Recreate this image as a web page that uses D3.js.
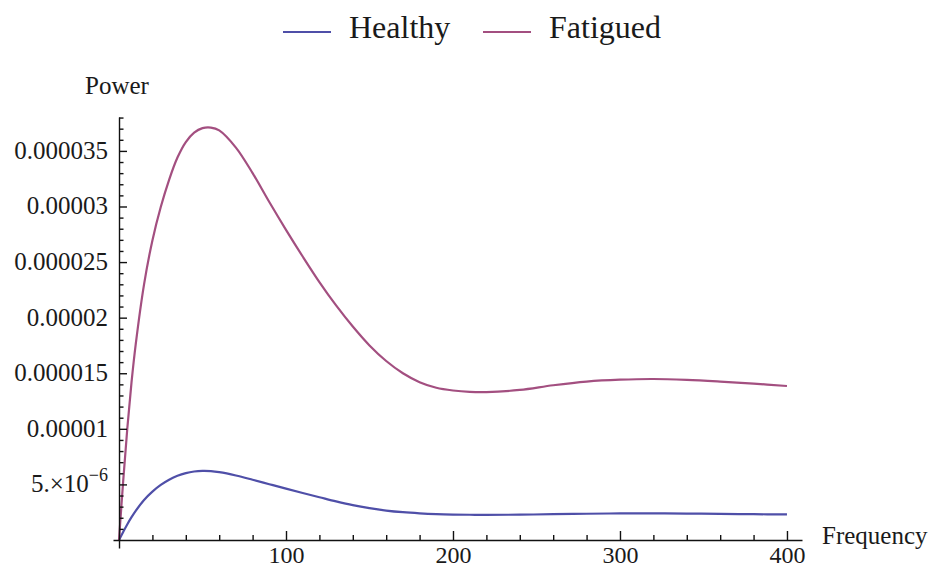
<!DOCTYPE html>
<html>
<head>
<meta charset="utf-8">
<script src="https://cdn.jsdelivr.net/npm/d3@7"></script>
<style>
  html, body { margin: 0; padding: 0; background: #fff; }
  svg { display: block; }
  text { font-family: "Liberation Serif", "Times New Roman", serif; fill: #1a1a1a; }
</style>
</head>
<body>
<svg id="chart" width="930" height="569"></svg>
<script>
// Power spectrum of the two groups
const frequency = [0, 2.5, 5, 7.5, 10, 15, 20, 25, 30, 35, 40, 45, 50, 55, 60, 70, 80, 90, 100,
  110, 120, 130, 140, 150, 160, 170, 180, 190, 200, 210, 220, 240, 260, 280, 300, 320, 340, 360, 380, 400];

const healthy = [0, 0.72e-6, 1.42e-6, 2.05e-6, 2.62e-6, 3.6e-6, 4.35e-6, 4.95e-6, 5.42e-6, 5.78e-6,
  6.02e-6, 6.16e-6, 6.21e-6, 6.19e-6, 6.1e-6, 5.8e-6, 5.42e-6, 5.02e-6, 4.62e-6,
  4.23e-6, 3.85e-6, 3.47e-6, 3.13e-6, 2.86e-6, 2.65e-6, 2.5e-6, 2.4e-6, 2.33e-6, 2.29e-6,
  2.27e-6, 2.26e-6, 2.28e-6, 2.32e-6, 2.36e-6, 2.39e-6, 2.4e-6, 2.38e-6, 2.35e-6, 2.32e-6, 2.3e-6];

const fatigued = [0, 5.3e-6, 10.1e-6, 14.2e-6, 17.6e-6, 23.0e-6, 26.95e-6, 29.95e-6, 32.4e-6, 34.4e-6,
  35.8e-6, 36.65e-6, 37.05e-6, 37.1e-6, 36.85e-6, 35.3e-6, 33.0e-6, 30.4e-6, 27.9e-6,
  25.5e-6, 23.2e-6, 21.1e-6, 19.2e-6, 17.5e-6, 16.1e-6, 15.0e-6, 14.2e-6, 13.7e-6, 13.45e-6,
  13.32e-6, 13.3e-6, 13.5e-6, 13.92e-6, 14.25e-6, 14.42e-6, 14.48e-6, 14.4e-6, 14.25e-6, 14.07e-6, 13.85e-6];

const seriesNames = ["Healthy", "Fatigued"];
const seriesColors = ["#4f4fa8", "#a34f80"];

const xTicks = [100, 200, 300, 400];
const xTickLabels = ["100", "200", "300", "400"];
const xMinorTicks = d3.range(20, 401, 20).filter(v => v % 100 !== 0);

const yTicks = [5e-6, 1e-5, 1.5e-5, 2e-5, 2.5e-5, 3e-5, 3.5e-5];
const yTickLabels = ["5.×10^−6", "0.00001", "0.000015", "0.00002", "0.000025", "0.00003", "0.000035"];
const yMinorTicks = d3.range(1, 39).filter(v => v % 5 !== 0).map(v => v * 1e-6);

const svg = d3.select("#chart");

// Axes cross at the origin and run slightly past it on both ends
const x = d3.scaleLinear().domain([-3.6, 409]).range([113, 802]);
const y = d3.scaleLinear().domain([-0.72e-6, 38.05e-6]).range([548, 117]);

// Curves
const line = d3.line().curve(d3.curveCatmullRom.alpha(0.5));
[healthy, fatigued].forEach((vals, i) => {
  svg.append("path")
    .attr("d", line(frequency.map((f, j) => [x(f), y(vals[j])])))
    .attr("fill", "none")
    .attr("stroke", seriesColors[i])
    .attr("stroke-width", 2.2)
    .attr("stroke-linejoin", "round");
});

// X axis (ticks point up into the plot)
const xAxisG = svg.append("g").attr("transform", `translate(0,${y(0)})`);
xAxisG.call(d3.axisBottom(x).tickValues(xTicks).tickSizeInner(-9).tickSizeOuter(0)
  .tickPadding(6).tickFormat((d, i) => xTickLabels[i]));
xAxisG.append("g").call(d3.axisBottom(x).tickValues(xMinorTicks).tickSizeInner(-5).tickSizeOuter(0)
  .tickFormat(""))
  .select(".domain").remove();

// Y axis (ticks point right into the plot)
const yAxisG = svg.append("g").attr("transform", `translate(${x(0)},0)`);
yAxisG.call(d3.axisLeft(y).tickValues(yTicks).tickSizeInner(-8).tickSizeOuter(0)
  .tickPadding(10).tickFormat(""));
yAxisG.append("g").call(d3.axisLeft(y).tickValues(yMinorTicks).tickSizeInner(-4.5).tickSizeOuter(0)
  .tickFormat(""))
  .select(".domain").remove();

svg.selectAll(".domain, .tick line").attr("stroke", "#111").attr("stroke-width", 1.4);
xAxisG.selectAll(".tick text")
  .attr("font-size", 24).attr("font-family", "Liberation Serif, serif").attr("fill", "#1a1a1a");

// Y tick labels, with a superscript exponent where needed
yTicks.forEach((v, i) => {
  const t = svg.append("text")
    .attr("x", 108).attr("y", y(v) + 8)
    .attr("text-anchor", "end")
    .attr("font-size", 25);
  const parts = yTickLabels[i].split("^");
  t.append("tspan").text(parts[0]);
  if (parts.length > 1) {
    t.append("tspan").attr("dy", -11).attr("font-size", 18).text(parts[1]);
  }
});

// Axis titles
svg.append("text").attr("x", 85).attr("y", 94).attr("font-size", 25).text("Power");
svg.append("text").attr("x", 822).attr("y", 544).attr("font-size", 25).text("Frequency");

// Legend
const legendX = [283, 483];
seriesNames.forEach((name, i) => {
  svg.append("line")
    .attr("x1", legendX[i]).attr("x2", legendX[i] + 48)
    .attr("y1", 32).attr("y2", 32)
    .attr("stroke", seriesColors[i]).attr("stroke-width", 2.2);
  svg.append("text")
    .attr("x", legendX[i] + 66).attr("y", 38)
    .attr("font-size", 32)
    .attr("fill", "#111")
    .text(name);
});
</script>
</body>
</html>
